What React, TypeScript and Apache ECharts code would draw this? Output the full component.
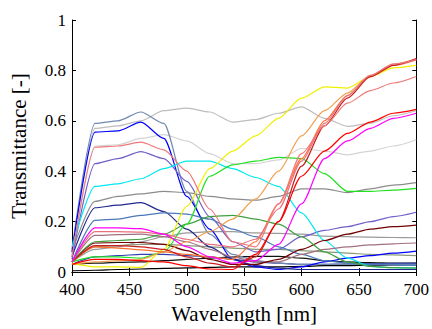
import React, { useEffect, useRef } from "react";
import * as echarts from "echarts";

const wavelengths = [400, 420, 440, 460, 480, 500, 520, 540, 560, 580, 600, 620, 640, 660, 680, 700];

const slate = [0.09, 0.59, 0.6, 0.635, 0.59, 0.32, 0.15, 0.07, 0.045, 0.035, 0.03, 0.03, 0.03, 0.03, 0.03, 0.03];
const blue = [0.08, 0.555, 0.56, 0.595, 0.53, 0.3, 0.17, 0.05, 0.02, 0.01, 0.02, 0.04, 0.055, 0.065, 0.075, 0.083];
const gray1 = [0.07, 0.57, 0.58, 0.6, 0.64, 0.65, 0.635, 0.595, 0.605, 0.63, 0.655, 0.61, 0.578, 0.59, 0.62, 0.64];
const gray2 = [0.06, 0.5, 0.505, 0.53, 0.545, 0.52, 0.47, 0.43, 0.43, 0.445, 0.49, 0.48, 0.465, 0.48, 0.5, 0.525];
const salmon = [0.06, 0.495, 0.5, 0.515, 0.485, 0.4, 0.25, 0.12, 0.1, 0.27, 0.47, 0.58, 0.67, 0.72, 0.75, 0.776];
const purple = [0.05, 0.43, 0.45, 0.478, 0.45, 0.36, 0.22, 0.12, 0.08, 0.09, 0.14, 0.165, 0.18, 0.2, 0.22, 0.237];
const cyan = [0.1, 0.34, 0.35, 0.37, 0.41, 0.44, 0.44, 0.41, 0.375, 0.34, 0.235, 0.125, 0.055, 0.022, 0.017, 0.016];
const gray = [0.08, 0.28, 0.3, 0.31, 0.32, 0.315, 0.3, 0.29, 0.285, 0.3, 0.33, 0.33, 0.315, 0.33, 0.345, 0.355];
const navy = [0.06, 0.255, 0.265, 0.275, 0.24, 0.17, 0.1, 0.05, 0.025, 0.015, 0.01, 0.01, 0.01, 0.01, 0.01, 0.01];
const steelBlue = [0.04, 0.205, 0.21, 0.225, 0.235, 0.23, 0.21, 0.17, 0.14, 0.1, 0.07, 0.045, 0.035, 0.03, 0.028, 0.026];
const magenta = [0.04, 0.175, 0.175, 0.172, 0.15, 0.1, 0.06, 0.035, 0.045, 0.11, 0.27, 0.45, 0.52, 0.57, 0.61, 0.63];
const red = [0.03, 0.05, 0.05, 0.045, 0.04, 0.025, 0.012, 0.01, 0.07, 0.2, 0.38, 0.48, 0.55, 0.595, 0.63, 0.645];
const lightOrange = [0.03, 0.04, 0.045, 0.05, 0.08, 0.12, 0.16, 0.21, 0.29, 0.4, 0.54, 0.64, 0.71, 0.78, 0.825, 0.845];
const coral = [0.04, 0.1, 0.095, 0.088, 0.08, 0.07, 0.06, 0.05, 0.12, 0.27, 0.45, 0.6, 0.7, 0.775, 0.82, 0.842];
const darkRed = [0.04, 0.105, 0.105, 0.1, 0.09, 0.06, 0.035, 0.02, 0.06, 0.2, 0.42, 0.58, 0.69, 0.775, 0.82, 0.847];
const pinkRed = [0.04, 0.16, 0.16, 0.158, 0.15, 0.13, 0.11, 0.1, 0.13, 0.25, 0.44, 0.59, 0.7, 0.78, 0.825, 0.843];
const yellow = [0.035, 0.02, 0.02, 0.018, 0.09, 0.26, 0.41, 0.48, 0.54, 0.61, 0.69, 0.735, 0.73, 0.775, 0.81, 0.82];
const green = [0.04, 0.06, 0.06, 0.055, 0.08, 0.19, 0.38, 0.425, 0.44, 0.455, 0.45, 0.39, 0.32, 0.32, 0.325, 0.332];
const midGreen = [0.04, 0.12, 0.125, 0.13, 0.15, 0.19, 0.22, 0.225, 0.21, 0.19, 0.14, 0.08, 0.04, 0.022, 0.017, 0.015];
const maroon = [0.04, 0.115, 0.117, 0.117, 0.11, 0.085, 0.05, 0.03, 0.03, 0.05, 0.09, 0.125, 0.15, 0.17, 0.18, 0.186];
const mauve = [0.04, 0.145, 0.148, 0.15, 0.14, 0.12, 0.09, 0.06, 0.04, 0.04, 0.07, 0.09, 0.1, 0.108, 0.112, 0.115];
const gray3 = [0.04, 0.09, 0.1, 0.12, 0.14, 0.155, 0.16, 0.16, 0.155, 0.153, 0.15, 0.142, 0.14, 0.138, 0.137, 0.136];
const olive = [0.04, 0.1, 0.105, 0.11, 0.11, 0.105, 0.1, 0.095, 0.09, 0.09, 0.085, 0.08, 0.075, 0.07, 0.068, 0.065];
const black1 = [0.005, 0.007, 0.01, 0.012, 0.014, 0.016, 0.018, 0.02, 0.02, 0.02, 0.022, 0.025, 0.025, 0.027, 0.028, 0.03];
const black2 = [0.03, 0.035, 0.038, 0.04, 0.045, 0.05, 0.055, 0.06, 0.062, 0.062, 0.055, 0.045, 0.04, 0.037, 0.035, 0.035];
const slateBlue2 = [0.03, 0.06, 0.065, 0.07, 0.07, 0.065, 0.06, 0.05, 0.04, 0.035, 0.03, 0.03, 0.032, 0.033, 0.034, 0.035];

const seriesList: [string, number[], string][] = [
  ["gray1", gray1, "#bdbdbd"],
  ["gray2", gray2, "#d4d4d4"],
  ["gray", gray, "#8c8c8c"],
  ["gray3", gray3, "#9a9a9a"],
  ["olive", olive, "#8a9a78"],
  ["black1", black1, "#000000"],
  ["black2", black2, "#111111"],
  ["slateBlue2", slateBlue2, "#3040b0"],
  ["slate", slate, "#7088b0"],
  ["blue", blue, "#0000ff"],
  ["purple", purple, "#7060c8"],
  ["navy", navy, "#202890"],
  ["steelBlue", steelBlue, "#4a78b8"],
  ["cyan", cyan, "#00e8f0"],
  ["mauve", mauve, "#a07080"],
  ["maroon", maroon, "#700000"],
  ["midGreen", midGreen, "#40a040"],
  ["green", green, "#20e020"],
  ["yellow", yellow, "#f0f000"],
  ["lightOrange", lightOrange, "#f0a050"],
  ["coral", coral, "#ff7030"],
  ["darkRed", darkRed, "#c82020"],
  ["pinkRed", pinkRed, "#e87080"],
  ["salmon", salmon, "#f07878"],
  ["magenta", magenta, "#ff00ff"],
  ["red", red, "#ff0000"],
];

const FONT = "Liberation Serif";

export default function App() {
  const ref = useRef<HTMLDivElement>(null);
  useEffect(() => {
    if (!ref.current) return;
    const chart = echarts.init(ref.current, undefined, { renderer: "svg" });
    const axisLine = { show: true, lineStyle: { color: "#000", width: 1 } };
    const tick = { show: true, inside: true, length: 4, lineStyle: { color: "#000" } };
    const labelStyle = { fontFamily: FONT, fontSize: 17, color: "#000" };
    chart.setOption({
      animation: false,
      backgroundColor: "#fff",
      textStyle: { fontFamily: FONT },
      grid: { left: 62, right: 14, top: 20, bottom: 41 },
      xAxis: [
        {
          type: "value",
          min: 400,
          max: 700,
          interval: 50,
          name: "Wavelength [nm]",
          nameLocation: "middle",
          nameGap: 31,
          nameTextStyle: { fontFamily: FONT, fontSize: 21, color: "#000" },
          axisLine,
          axisTick: tick,
          splitLine: { show: false },
          axisLabel: { ...labelStyle, margin: 9 },
        },
        {
          type: "value",
          position: "top",
          min: 400,
          max: 700,
          interval: 50,
          axisLine,
          axisTick: tick,
          splitLine: { show: false },
          axisLabel: { show: false },
        },
      ],
      yAxis: [
        {
          type: "value",
          min: 0,
          max: 1,
          interval: 0.2,
          name: "Transmittance [-]",
          nameLocation: "middle",
          nameGap: 43,
          nameTextStyle: { fontFamily: FONT, fontSize: 21, color: "#000" },
          axisLine,
          axisTick: tick,
          splitLine: { show: false },
          axisLabel: { ...labelStyle, margin: 6 },
        },
        {
          type: "value",
          position: "right",
          min: 0,
          max: 1,
          interval: 0.2,
          axisLine,
          axisTick: tick,
          splitLine: { show: false },
          axisLabel: { show: false },
        },
      ],
      series: seriesList.map(([name, vals, color]) => ({
        name,
        type: "line",
        data: wavelengths.map((w, i) => [w, vals[i]]),
        showSymbol: false,
        smooth: 0.25,
        smoothMonotone: "x",
        lineStyle: { color, width: 1.2 },
        itemStyle: { color },
        silent: true,
      })),
    });
    return () => chart.dispose();
  }, []);
  return <div ref={ref} style={{ position: "fixed", left: 0, top: 0, width: 432, height: 329 }} />;
}
